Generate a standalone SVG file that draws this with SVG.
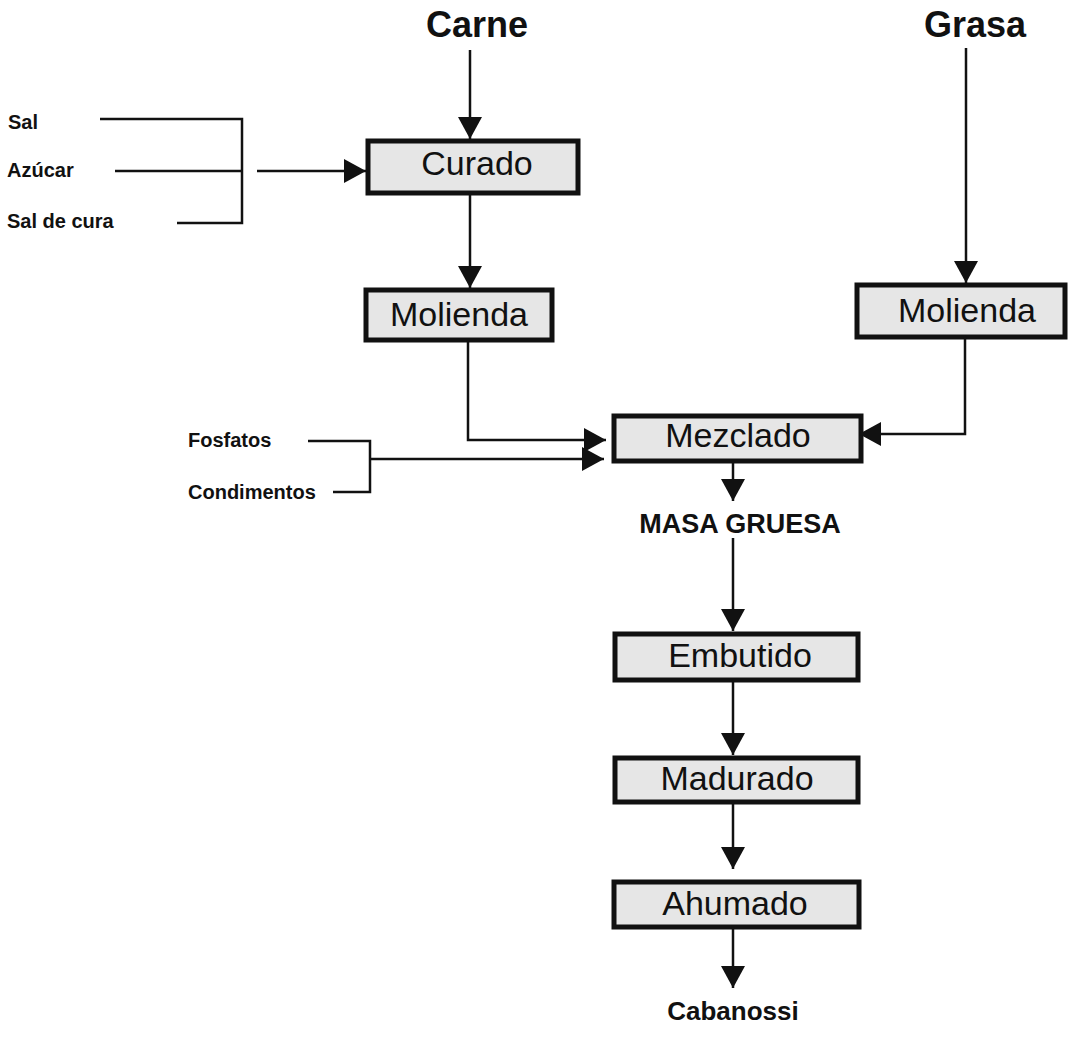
<svg xmlns="http://www.w3.org/2000/svg" width="1069" height="1037" viewBox="0 0 1069 1037">
<style>
.box{fill:#e6e6e6;stroke:#111;stroke-width:5}
.bt{font-family:"Liberation Sans",Arial,sans-serif;font-size:34px;fill:#111;text-anchor:middle}
.big{font-family:"Liberation Sans",Arial,sans-serif;font-size:36px;font-weight:bold;fill:#111;text-anchor:middle}
.sm{font-family:"Liberation Sans",Arial,sans-serif;font-size:20px;font-weight:bold;fill:#111}
.lab{font-family:"Liberation Sans",Arial,sans-serif;font-size:26px;font-weight:bold;fill:#111;text-anchor:middle}
.ln{fill:none;stroke:#111;stroke-width:2.5}
</style>
<defs>
<marker id="ah" viewBox="0 0 22 24" refX="22" refY="12" markerWidth="22" markerHeight="24" markerUnits="userSpaceOnUse" orient="auto">
<path d="M0,0 L22,12 L0,24 Z" fill="#111"/>
</marker>
</defs>
<rect width="1069" height="1037" fill="#fff"/>
<g id="carne"><text class="big" x="477" y="37">Carne</text></g>
<g id="grasa"><text class="big" x="975" y="37">Grasa</text></g>
<g id="sal"><text class="sm" x="8" y="129">Sal</text></g>
<g id="azucar"><text class="sm" x="7" y="177">Azúcar</text></g>
<g id="salcura"><text class="sm" x="7" y="228">Sal de cura</text></g>
<g id="fosfatos"><text class="sm" x="188" y="447">Fosfatos</text></g>
<g id="condimentos"><text class="sm" x="188" y="499">Condimentos</text></g>
<g id="curado"><rect class="box" x="368" y="141" width="210" height="52"/><text class="bt" x="477" y="175">Curado</text></g>
<g id="molienda1"><rect class="box" x="366" y="290" width="186" height="50"/><text class="bt" x="459" y="326">Molienda</text></g>
<g id="molienda2"><rect class="box" x="857" y="285" width="208" height="52"/><text class="bt" x="967" y="322">Molienda</text></g>
<g id="mezclado"><rect class="box" x="614" y="416" width="247" height="45"/><text class="bt" x="738" y="447">Mezclado</text></g>
<g id="masa"><text class="lab" x="740" y="533" style="font-size:27px">MASA GRUESA</text></g>
<g id="embutido"><rect class="box" x="615" y="634" width="243" height="46"/><text class="bt" x="740" y="667">Embutido</text></g>
<g id="madurado"><rect class="box" x="615" y="758" width="243" height="44"/><text class="bt" x="737" y="790">Madurado</text></g>
<g id="ahumado"><rect class="box" x="614" y="882" width="245" height="45"/><text class="bt" x="735" y="915">Ahumado</text></g>
<g id="cabanossi"><text class="lab" x="733" y="1020">Cabanossi</text></g>
<g id="connectors">
<path class="ln" d="M470,50 V139" marker-end="url(#ah)"/>
<path class="ln" d="M966,48 V283" marker-end="url(#ah)"/>
<path class="ln" d="M470,193 V288" marker-end="url(#ah)"/>
<path class="ln" d="M100,119 H242 V223 H177 M115,171 H242"/>
<path class="ln" d="M257,171 H366" marker-end="url(#ah)"/>
<path class="ln" d="M468,340 V440 H606" marker-end="url(#ah)"/>
<path class="ln" d="M308,441 H370 V492 H333"/>
<path class="ln" d="M370,459 H604" marker-end="url(#ah)"/>
<path class="ln" d="M965,337 V434 H859" marker-end="url(#ah)"/>
<path class="ln" d="M733,461 V501" marker-end="url(#ah)"/>
<path class="ln" d="M733,538 V631" marker-end="url(#ah)"/>
<path class="ln" d="M733,680 V755" marker-end="url(#ah)"/>
<path class="ln" d="M733,802 V869" marker-end="url(#ah)"/>
<path class="ln" d="M733,927 V988" marker-end="url(#ah)"/>
</g>
</svg>
